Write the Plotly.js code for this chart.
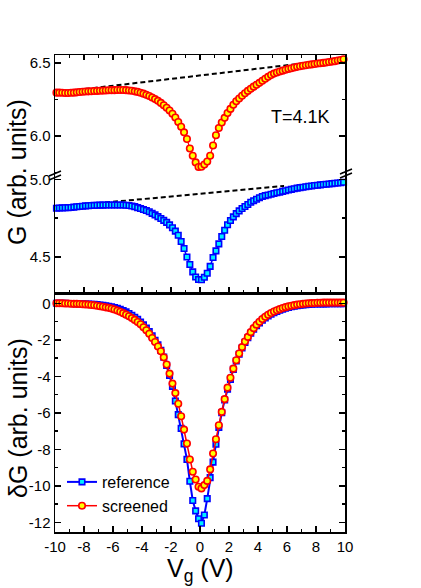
<!DOCTYPE html>
<html>
<head>
<meta charset="utf-8">
<script src="https://cdn.plot.ly/plotly-3.0.1.min.js"></script>
<style>
  html, body { margin: 0; padding: 0; background: #fff; }
  #chart { width: 421px; height: 588px; }
</style>
</head>
<body>
<div id="chart"></div>
<script>
// Gate voltage grid (V)
const vg = [-9.9,-9.7,-9.5,-9.3,-9.1,-8.9,-8.7,-8.5,-8.3,-8.1,-7.9,-7.7,-7.5,-7.3,-7.1,-6.9,-6.7,-6.5,-6.3,-6.1,
  -5.9,-5.7,-5.5,-5.3,-5.1,-4.9,-4.7,-4.5,-4.3,-4.1,-3.9,-3.7,-3.5,-3.3,-3.1,-2.9,-2.7,-2.5,-2.3,-2.1,
  -1.9,-1.7,-1.5,-1.3,-1.1,-0.9,-0.7,-0.5,-0.3,-0.1,0.1,0.3,0.5,0.7,0.9,1.1,1.3,1.5,1.7,1.9,
  2.1,2.3,2.5,2.7,2.9,3.1,3.3,3.5,3.7,3.9,4.1,4.3,4.5,4.7,4.9,5.1,5.3,5.5,5.7,5.9,
  6.1,6.3,6.5,6.7,6.9,7.1,7.3,7.5,7.7,7.9,8.1,8.3,8.5,8.7,8.9,9.1,9.3,9.5,9.7,9.9];

// G, screened sample (upper part of top panel)
const gScreened = [6.296,6.296,6.295,6.294,6.294,6.295,6.296,6.298,6.300,6.302,6.304,6.305,6.306,6.307,6.308,6.309,6.310,6.311,6.312,6.313,
  6.313,6.314,6.314,6.314,6.313,6.311,6.309,6.305,6.301,6.295,6.289,6.281,6.273,6.263,6.252,6.240,6.226,6.210,6.193,6.174,
  6.152,6.126,6.096,6.063,6.025,5.980,5.915,5.865,5.820,5.788,5.790,5.805,5.826,5.865,5.935,6.005,6.055,6.092,6.124,6.157,
  6.185,6.213,6.237,6.256,6.275,6.292,6.308,6.323,6.337,6.350,6.363,6.377,6.391,6.404,6.416,6.426,6.434,6.440,6.446,6.452,
  6.458,6.463,6.468,6.472,6.476,6.480,6.483,6.486,6.489,6.492,6.495,6.497,6.499,6.502,6.505,6.508,6.511,6.515,6.519,6.524];

// G, reference sample (lower part of top panel)
const gReference = [4.814,4.815,4.816,4.817,4.818,4.819,4.821,4.823,4.825,4.827,4.829,4.830,4.831,4.832,4.833,4.834,4.834,4.835,4.835,4.835,
  4.835,4.835,4.835,4.835,4.833,4.831,4.828,4.824,4.818,4.812,4.806,4.799,4.791,4.781,4.771,4.760,4.748,4.736,4.723,4.707,
  4.688,4.667,4.640,4.600,4.555,4.500,4.452,4.405,4.372,4.356,4.354,4.370,4.396,4.440,4.497,4.540,4.585,4.632,4.672,4.708,
  4.735,4.758,4.779,4.797,4.812,4.825,4.838,4.852,4.862,4.872,4.881,4.889,4.895,4.899,4.904,4.909,4.913,4.917,4.922,4.926,
  4.931,4.935,4.939,4.943,4.946,4.949,4.952,4.955,4.957,4.960,4.962,4.964,4.966,4.968,4.970,4.972,4.974,4.976,4.978,4.981];

// background lines (dashed)
const upperDashX = [-8.5, 7.0];
const upperDashY = [6.314, 6.495];
const lowerDashX = [-8.2, 5.8];
const lowerDashY = [4.836, 4.957];

// deltaG, bottom panel
const dgReference = [0.00,0.00,0.00,0.00,-0.01,-0.01,-0.02,-0.02,-0.03,-0.03,-0.04,-0.04,-0.05,-0.06,-0.07,-0.09,-0.11,-0.13,-0.16,-0.19,
  -0.23,-0.28,-0.33,-0.40,-0.47,-0.56,-0.65,-0.76,-0.88,-1.02,-1.18,-1.36,-1.55,-1.78,-2.02,-2.28,-2.58,-2.95,-3.40,-3.95,
  -4.55,-5.35,-6.10,-6.85,-7.70,-8.55,-9.75,-10.80,-11.37,-11.80,-12.05,-11.60,-10.70,-9.55,-8.70,-7.72,-6.80,-6.00,-5.30,-4.70,
  -4.17,-3.62,-3.16,-2.79,-2.45,-2.14,-1.89,-1.64,-1.42,-1.23,-1.07,-0.92,-0.80,-0.69,-0.59,-0.51,-0.44,-0.38,-0.32,-0.27,
  -0.23,-0.19,-0.16,-0.13,-0.11,-0.09,-0.07,-0.06,-0.05,-0.04,-0.04,-0.03,-0.03,-0.03,-0.02,-0.02,-0.02,-0.02,-0.02,-0.02];

const dgScreened = [0.00,0.00,0.00,-0.01,-0.01,-0.02,-0.03,-0.03,-0.04,-0.05,-0.06,-0.07,-0.09,-0.11,-0.13,-0.16,-0.19,-0.22,-0.25,-0.29,
  -0.34,-0.40,-0.46,-0.54,-0.62,-0.71,-0.81,-0.91,-1.02,-1.15,-1.31,-1.48,-1.67,-1.90,-2.12,-2.37,-2.63,-2.96,-3.35,-3.85,
  -4.40,-4.92,-5.50,-6.19,-6.92,-7.68,-8.56,-9.23,-9.65,-10.05,-10.14,-9.96,-9.73,-9.10,-8.23,-7.45,-6.68,-5.95,-5.25,-4.62,
  -4.08,-3.58,-3.12,-2.75,-2.40,-2.09,-1.84,-1.58,-1.36,-1.17,-1.01,-0.86,-0.74,-0.63,-0.53,-0.45,-0.38,-0.32,-0.26,-0.21,
  -0.17,-0.13,-0.10,-0.07,-0.05,-0.03,-0.01,0.00,0.01,0.02,0.03,0.03,0.04,0.04,0.04,0.04,0.04,0.04,0.04,0.04];

// tick labels (plain hyphen minus as in the original)
const xTickVals = [-10, -8, -6, -4, -2, 0, 2, 4, 6, 8, 10];
const xTickText = ["-10", "-8", "-6", "-4", "-2", "0", "2", "4", "6", "8", "10"];
const dgTickVals = [0, -2, -4, -6, -8, -10, -12];
const dgTickText = ["0", "-2", "-4", "-6", "-8", "-10", "-12"];

const FONT = "Liberation Sans, Arial, sans-serif";
const RED = "#ff0000";
const YELLOW = "#ffff00";
const BLUE = "#0000ff";
const CYAN = "#00f0ff";

// pixel helpers for decorations (plot area 55..345 x 55..532)
const px = (x) => (x - 55) / 290;
const py = (y) => (532 - y) / 477;

const redMarker = { symbol: "circle", size: 6.5, color: YELLOW, line: { color: RED, width: 1.6 } };
const blueMarker = { symbol: "square", size: 5.5, color: CYAN, line: { color: BLUE, width: 1.6 } };

const traces = [
  { x: upperDashX, y: upperDashY, xaxis: "x3", yaxis: "y3", mode: "lines",
    line: { color: "#000", width: 2, dash: "5px,3px" }, showlegend: false },
  { x: vg, y: gScreened, xaxis: "x3", yaxis: "y3", mode: "lines+markers", cliponaxis: false,
    line: { color: RED, width: 1.2 }, marker: redMarker, showlegend: false },
  { x: lowerDashX, y: lowerDashY, xaxis: "x2", yaxis: "y2", mode: "lines",
    line: { color: "#000", width: 2, dash: "5px,3px" }, showlegend: false },
  { x: vg, y: gReference, xaxis: "x2", yaxis: "y2", mode: "lines+markers", cliponaxis: false,
    line: { color: BLUE, width: 1.5 }, marker: blueMarker, showlegend: false },
  { x: vg, y: dgReference, xaxis: "x", yaxis: "y", mode: "lines+markers", name: "reference", cliponaxis: false,
    line: { color: BLUE, width: 2 }, marker: blueMarker },
  { x: vg, y: dgScreened, xaxis: "x", yaxis: "y", mode: "lines+markers", name: "screened", cliponaxis: false,
    line: { color: RED, width: 1.5 }, marker: redMarker },
];

const axisCommon = {
  showline: true, linecolor: "#000", linewidth: 1.5,
  ticks: "inside", ticklen: 6, tickwidth: 1.5, tickcolor: "#000",
  showgrid: false, zeroline: false,
  tickfont: { family: FONT, size: 15, color: "#000" },
};

const xCommon = Object.assign({}, axisCommon, {
  range: [-10, 10], tick0: -10, dtick: 2,
  minor: { dtick: 1, ticks: "inside", ticklen: 3, tickwidth: 1.5, tickcolor: "#000" },
});

const layout = {
  width: 421,
  height: 588,
  paper_bgcolor: "#fff",
  plot_bgcolor: "#fff",
  margin: { l: 55, r: 76, t: 55, b: 56 },
  font: { family: FONT, color: "#000" },
  showlegend: true,
  legend: {
    x: px(62), y: py(465), xanchor: "left", yanchor: "top",
    bgcolor: "rgba(0,0,0,0)", font: { family: FONT, size: 16, color: "#000" },
    tracegroupgap: 0, itemwidth: 30,
  },
  xaxis: Object.assign({}, xCommon, {
    anchor: "y", domain: [0, 1], mirror: true,
    tickmode: "array", tickvals: xTickVals, ticktext: xTickText,
  }),
  xaxis2: Object.assign({}, xCommon, { anchor: "y2", domain: [0, 1], showticklabels: false }),
  xaxis3: Object.assign({}, xCommon, { anchor: "y3", domain: [0, 1], side: "top", showticklabels: false, ticklen: 5 }),
  yaxis: Object.assign({}, axisCommon, {
    domain: [0, py(293)], range: [-12.53, 0.565], anchor: "x", mirror: "ticks",
    tickmode: "array", tickvals: dgTickVals, ticktext: dgTickText,
    minor: { dtick: 1, ticks: "inside", ticklen: 3, tickwidth: 1.5, tickcolor: "#000" },
  }),
  yaxis2: Object.assign({}, axisCommon, {
    domain: [py(293), py(176)], range: [4.269, 5.021], anchor: "x2", mirror: "ticks",
    tick0: 4.5, dtick: 0.5, tickformat: ".1f",
    minor: { tick0: 4.5, dtick: 0.25, ticks: "inside", ticklen: 3, tickwidth: 1.5, tickcolor: "#000" },
  }),
  yaxis3: Object.assign({}, axisCommon, {
    domain: [py(176), 1], range: [5.727, 6.553], anchor: "x3", mirror: "ticks",
    tick0: 6.0, dtick: 0.5, tickformat: ".1f",
    minor: { tick0: 6.0, dtick: 0.25, ticks: "inside", ticklen: 3, tickwidth: 1.5, tickcolor: "#000" },
  }),
  annotations: [
    { text: "G (arb. units)", xref: "paper", yref: "paper", x: px(17), y: py(172),
      xanchor: "center", yanchor: "middle",
      textangle: -90, showarrow: false, font: { family: FONT, size: 25 } },
    { text: "δG (arb. units)", xref: "paper", yref: "paper", x: px(18), y: py(418),
      xanchor: "center", yanchor: "middle",
      textangle: -90, showarrow: false, font: { family: FONT, size: 25 } },
    { text: "V<sub>g</sub> (V)", xref: "paper", yref: "paper", x: px(200), y: py(570),
      xanchor: "center", yanchor: "middle",
      showarrow: false, font: { family: FONT, size: 25 } },
    { text: "T=4.1K", xref: "paper", yref: "paper", x: px(300), y: py(117),
      xanchor: "center", yanchor: "middle",
      showarrow: false, font: { family: FONT, size: 18 } },
  ],
  shapes: [
    // axis break marks, left and right
    { type: "line", xref: "paper", yref: "paper", x0: px(49), y0: py(180), x1: px(61), y1: py(175), line: { color: "#000", width: 1.5 } },
    { type: "line", xref: "paper", yref: "paper", x0: px(49), y0: py(176), x1: px(61), y1: py(171), line: { color: "#000", width: 1.5 } },
    { type: "line", xref: "paper", yref: "paper", x0: px(340), y0: py(178), x1: px(352), y1: py(173), line: { color: "#000", width: 1.5 } },
    { type: "line", xref: "paper", yref: "paper", x0: px(340), y0: py(174), x1: px(352), y1: py(169), line: { color: "#000", width: 1.5 } },
  ],
};

Plotly.newPlot("chart", traces, layout, { displayModeBar: false, staticPlot: true });
</script>
</body>
</html>
